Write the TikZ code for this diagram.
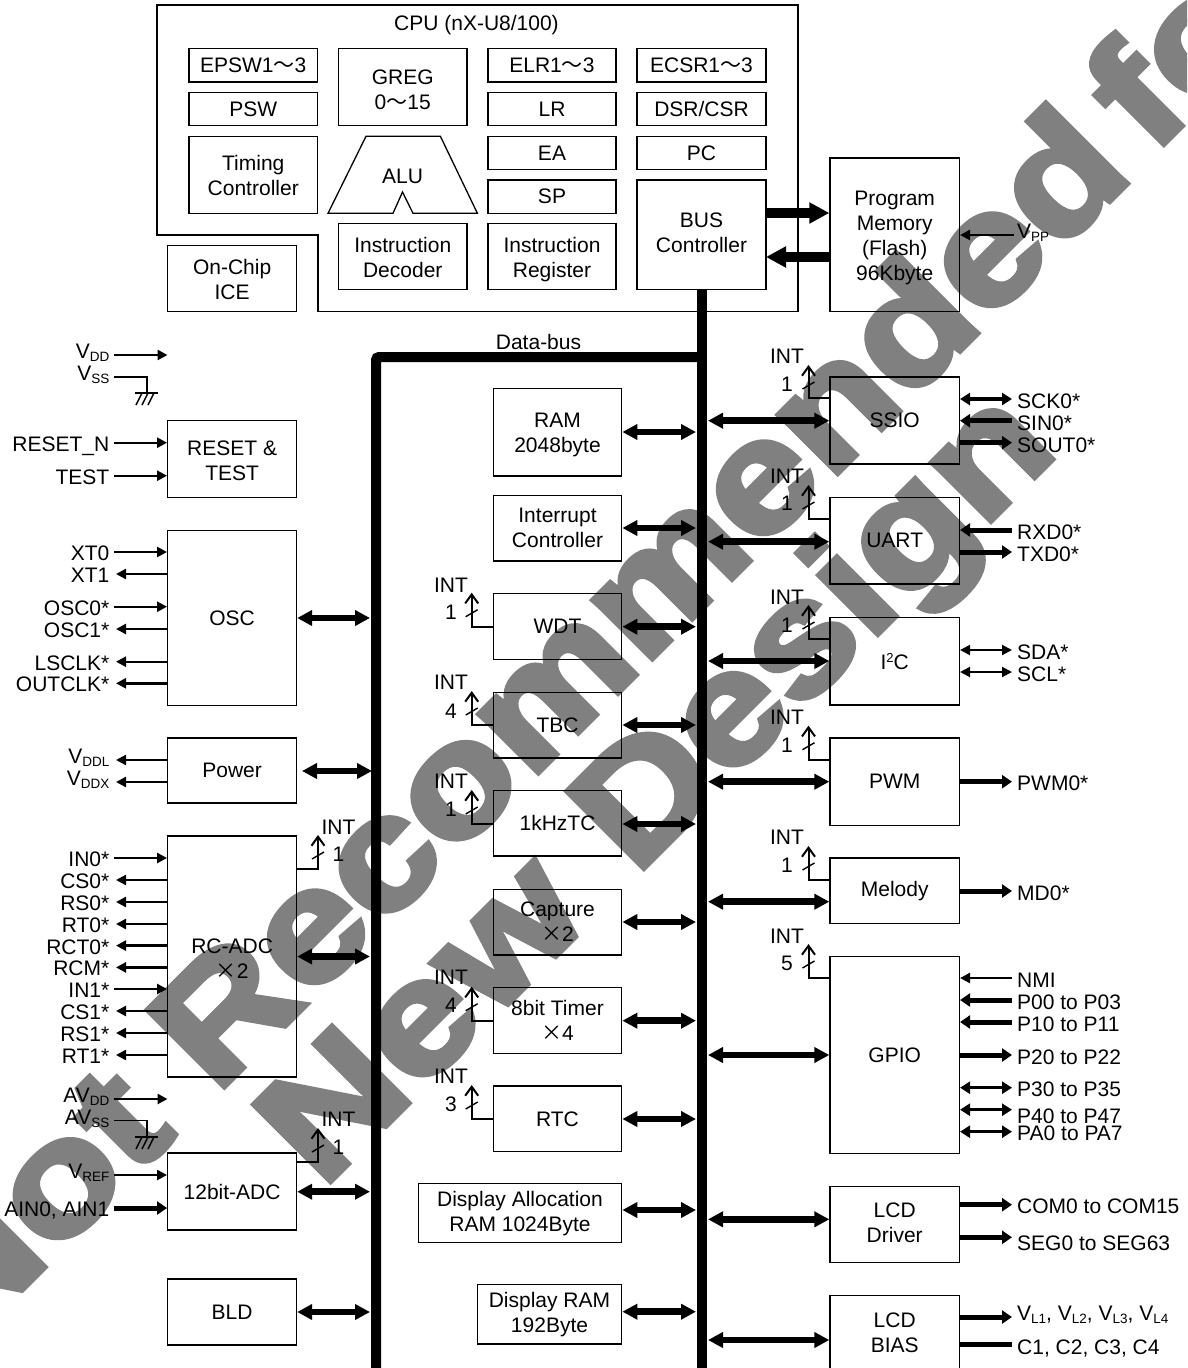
\documentclass[tikz,border=0pt]{standalone}
\usepackage{fontspec}
\setmainfont{Liberation Sans}
\newfontfamily\cjk{Noto Sans CJK JP}
\newfontfamily\wmf{Liberation Sans}[UprightFont=* Bold,FakeBold=3.5]
\usetikzlibrary{arrows.meta,calc}
\definecolor{wmark}{HTML}{808080}
\newcommand{\lowt}[1]{\raisebox{-3pt}{\fontsize{13.5}{13.5}\selectfont #1}}
\newcommand{\wv}{{\cjk ～}}
\newcommand{\tms}{{\cjk ×}}
\newcommand{\hh}[1]{\rule{0pt}{#1pt}}
\newcommand{\dd}[1]{\rule[-#1pt]{0pt}{#1pt}}
\newcommand{\bx}[6]{\node[box,minimum width={(#4-#2)*1pt},minimum height={(#5-#3)*1pt}] (#1) at ({(#2+#4)/2},{(#3+#5)/2}) {#6};}
\newcommand{\pinL}[6]{% name box y style text baseline-offset
  \node[lab,anchor=base east] (#1) at (109.5,#3+#6) {#5};
  \coordinate (#1c) at (114,#3);
  \draw[#4] (#1c) -- (#2.west |- #1c);}
\newcommand{\pinLo}[6]{%
  \node[lab,anchor=base east] (#1) at (109.5,#3+#6) {#5};
  \coordinate (#1c) at (116,#3);
  \draw[#4] (#1c) -- (#2.west |- #1c);}
\newcommand{\pinR}[6]{% name box y laby style text
  \node[lab,anchor=base west] (#1) at (1017,#4+7.5) {#6};
  \coordinate (#1c) at (1012,#3);
  \draw[#5] (#2.east |- #1c) -- (#1c);}
\newcommand{\busL}[3]{\coordinate (#1c) at (370,#3); \draw[dbl] (#2.east |- #1c) -- (#1c);}
\newcommand{\busM}[3]{\coordinate (#1c) at (696,#3); \draw[dbl] (#2.east |- #1c) -- (#1c);}
\newcommand{\busR}[3]{\coordinate (#1c) at (708,#3); \draw[dbl] (#1c) -- (#2.west |- #1c);}
\newcommand{\intr}[9]{% name startanchor xs sy tipy labx inty numy num
  \coordinate (#1s) at (#3,#4);
  \coordinate (#1t) at (#3,#5);
  \draw[intline] (#2 |- #1s) -- (#1s) -- (#1t);
  \draw[line width=1.4pt] ([shift={(-6,24)}]#1t) -- ([shift={(6,17)}]#1t);
  \node[lab] (#1a) at (#6,#7) {INT};
  \node[lab] (#1b) at (#6,#8) {#9};}
\tikzset{
  x=1pt,y=-1pt,
  box/.style={draw=black,line width=1.3pt,inner sep=0pt,align=center,font=\fontsize{21}{25}\selectfont},
  lab/.style={inner sep=0pt,font=\fontsize{21}{25}\selectfont},
  thin out/.style={line width=2.4pt,-{Triangle[length=10pt,width=10pt]}},
  thin in/.style={line width=2.4pt,{Triangle[length=10pt,width=10pt]}-},
  thin both/.style={line width=2pt,{Triangle[length=10pt,width=10pt]}-{Triangle[length=10pt,width=10pt]}},
  mid both/.style={line width=3.5pt,{Triangle[length=10pt,width=12pt]}-{Triangle[length=10pt,width=12pt]}},
  thick out/.style={line width=5pt,-{Triangle[length=10pt,width=13pt]}},
  thick in/.style={line width=5pt,{Triangle[length=10pt,width=13pt]}-},
  thick plain/.style={line width=5pt},
  dbl/.style={line width=6.5pt,{Triangle[length=15pt,width=15pt]}-{Triangle[length=15pt,width=15pt]}},
  heavy out/.style={line width=10pt,-{Triangle[length=20pt,width=20pt]}},
  heavy in/.style={line width=10pt,{Triangle[length=20pt,width=20pt]}-},
  busline/.style={line width=10pt},
  intline/.style={line width=2pt,-{Straight Barb[length=9pt,width=13pt]}},
  gnd/.style={line width=1.4pt},
  wm/.style={anchor=base west,inner sep=0pt,rotate=45,text=wmark,font=\wmf\fontsize{158}{158}\selectfont},
}
\begin{document}
\begin{tikzpicture}
\useasboundingbox (0,0) rectangle (1187,1368);
\clip (0,0) rectangle (1187,1368);
% watermark
\node[wm] (wm1) at (-42,1354) {\scalebox{1.18}[1]{Not}};
\node[wm] (wm2) at (216,1095) {\scalebox{1.148}[1]{Recommended}};
\node[wm] (wm3) at (1152,156) {\scalebox{1.15}[1]{for}};
\node[wm] (wm4) at (322,1190) {\scalebox{1.18}[1]{New}};
\node[wm] (wm5) at (635.5,876.5) {\scalebox{1.14}[1]{Design}};
% CPU
\draw[line width=1.5pt] (157,5) -- (798,5) -- (798,311.5) -- (318,311.5) -- (318,235) -- (157,235) -- cycle;
\node[lab,anchor=base] (cpu) at (476.5,30) {CPU (nX-U8/100)};
\bx{epsw}{189}{48.7}{317.5}{82}{EPSW1\wv3}
\bx{psw}{189}{92.7}{317.5}{125.7}{PSW}
\bx{timing}{189}{136.3}{317.5}{213.3}{\hh{17.2}Timing\\Controller}
\bx{greg}{338.5}{48.7}{467}{125.7}{\hh{19.2}GREG\\0\wv15}
\draw[line width=1.3pt] (366,136.3) -- (440.4,136.3) -- (477.4,213.3) -- (413,213.3) -- (402.5,192) -- (393,213.3) -- (328,213.3) -- cycle;
\node[lab] (alu) at (402.5,176) {ALU};
\bx{idec}{338.5}{223.7}{467}{289.7}{\hh{17.2}Instruction\\Decoder}
\bx{elr}{488}{48.7}{616}{82}{ELR1\wv3}
\bx{lr}{488}{92.7}{616}{125.7}{LR}
\bx{ea}{488}{136.3}{616}{169.3}{EA}
\bx{sp}{488}{180}{616}{213.3}{SP}
\bx{ireg}{488}{223.7}{616}{289.7}{\hh{20.2}Instruction\\Register}
\bx{ecsr}{637}{48.7}{766}{82}{ECSR1\wv3}
\bx{dsr}{637}{92.7}{766}{125.7}{DSR/CSR}
\bx{pc}{637}{136.3}{766}{169.3}{PC}
\bx{ctrl}{637}{180}{766}{289.7}{BUS\\Controller\dd{4}}
\bx{ice}{167.7}{245.7}{296.5}{311.7}{\hh{17.2}On-Chip\\ICE}
\bx{prog}{830}{158}{959.4}{311.7}{\hh{21.2}Program\\Memory\\(Flash)\\96Kbyte}
\coordinate (pa) at (766,213);
\coordinate (pb) at (766,257);
\draw[heavy out] (pa) -- (prog.west |- pa);
\draw[heavy in] (pb) -- (prog.west |- pb);
% data bus
\coordinate (busB) at (ctrl.south |- 0,1375);
\coordinate (busJ) at (ctrl.south |- 0,357);
\coordinate (busL) at (376,1375);
\draw[busline] (ctrl.south) -- (busB);
\draw[busline,rounded corners=3pt] (busL) |- (busJ);
\node[lab] (dbus) at (538.5,341.7) {Data-bus};
% left column
\bx{reset}{167.7}{420.7}{296.5}{497.3}{\hh{17.2}RESET \&\\TEST}
\bx{osc}{167.7}{530.3}{296.5}{705.3}{OSC}
\bx{power}{167.7}{738}{296.5}{803}{Power}
\bx{rcadc}{167.7}{836}{296.5}{1077}{\hh{18.2}RC-ADC\\\tms2}
\bx{adc}{167.7}{1153}{296.5}{1230}{12bit-ADC}
\bx{bld}{167.7}{1279}{296.5}{1345}{BLD}
% supply
\node[lab,anchor=base east] (vdd) at (109.5,358.5) {V\lowt{DD}};
\coordinate (vddA) at (114,355);
\coordinate (vddB) at (167.5,355);
\draw[thin out] (vddA) -- (vddB);
\node[lab,anchor=base east] (vss) at (109.5,380.5) {V\lowt{SS}};
\coordinate (vssA) at (114,377);
\coordinate (vssB) at (147,393);
\draw[line width=1.5pt] (vssA) -| (vssB);
\draw[gnd] ([shift={(-12,0)}]vssB) -- ([shift={(11,0)}]vssB);
\foreach \d in {-6,0,6}{\draw[gnd] ([shift={(\d+1,0)}]vssB) -- ([shift={(\d-5,12)}]vssB);}
\pinL{rst}{reset}{442.7}{thin out}{RESET\_N}{8.5}
\pinL{tst}{reset}{475.7}{thin out}{TEST}{8.5}
\pinL{xt0}{osc}{552}{thin out}{XT0}{8.5}
\pinLo{xt1}{osc}{574}{thin in}{XT1}{8.5}
\pinL{osc0}{osc}{606.7}{thin out}{OSC0*}{8.5}
\pinLo{osc1}{osc}{629}{thin in}{OSC1*}{8.5}
\pinLo{lsclk}{osc}{661.7}{thin in}{LSCLK*}{8.5}
\pinLo{outclk}{osc}{683.3}{thin in}{OUTCLK*}{8.5}
\pinLo{vddl}{power}{760}{thin in}{V\lowt{DDL}}{3.5}
\pinLo{vddx}{power}{782}{thin in}{V\lowt{DDX}}{3.5}
\pinL{in0}{rcadc}{858}{thin out}{IN0*}{8.5}
\pinLo{cs0}{rcadc}{880}{thin in}{CS0*}{8.5}
\pinLo{rs0}{rcadc}{902}{thin in}{RS0*}{8.5}
\pinLo{rt0}{rcadc}{924}{thin in}{RT0*}{8.5}
\pinLo{rct0}{rcadc}{945.6}{thin in}{RCT0*}{8.5}
\pinLo{rcm}{rcadc}{967.4}{thin in}{RCM*}{8.5}
\pinL{in1}{rcadc}{989}{thin out}{IN1*}{8.5}
\pinLo{cs1}{rcadc}{1011}{thin in}{CS1*}{8.5}
\pinLo{rs1}{rcadc}{1033}{thin in}{RS1*}{8.5}
\pinLo{rt1}{rcadc}{1055}{thin in}{RT1*}{8.5}
\node[lab,anchor=base east] (avdd) at (109.5,1102.5) {AV\lowt{DD}};
\coordinate (avddA) at (114,1099);
\coordinate (avddB) at (167.5,1099);
\draw[thin out] (avddA) -- (avddB);
\node[lab,anchor=base east] (avss) at (109.5,1124) {AV\lowt{SS}};
\coordinate (avssA) at (114,1120.6);
\coordinate (avssB) at (147,1137);
\draw[line width=1.5pt] (avssA) -| (avssB);
\draw[gnd] ([shift={(-12,0)}]avssB) -- ([shift={(11,0)}]avssB);
\foreach \d in {-6,0,6}{\draw[gnd] ([shift={(\d+1,0)}]avssB) -- ([shift={(\d-5,12)}]avssB);}
\pinL{vref}{adc}{1175}{thin out}{V\lowt{REF}}{3.5}
\pinL{ain}{adc}{1208}{thick out}{AIN0, AIN1}{8.5}
\busL{oscb}{osc}{618}
\coordinate (powa) at (302,771);
\coordinate (powb) at (372,771);
\draw[dbl] (powa) -- (powb);
\busL{rcb}{rcadc}{956.5}
\busL{adcb}{adc}{1191.7}
\busL{bldb}{bld}{1312}
\intr{i1}{rcadc.east}{318}{869}{835}{338.5}{827}{854}{1}
\intr{i2}{adc.east}{318}{1161.6}{1128}{338.5}{1119}{1147}{1}
% middle column
\bx{ram}{493.3}{388.7}{621.7}{476}{\hh{19.2}RAM\\2048byte}
\bx{intc}{493.3}{495.3}{621.7}{561}{Interrupt\\Controller}
\bx{wdt}{493.3}{593.7}{621.7}{659.3}{WDT}
\bx{tbc}{493.3}{692.3}{621.7}{758}{TBC}
\bx{khz}{493.3}{790.3}{621.7}{856}{1kHzTC}
\bx{cap}{493.3}{889.3}{621.7}{955}{Capture\\\tms2}
\bx{tim}{493.3}{987.7}{621.7}{1053.3}{8bit Timer\\\tms4}
\bx{rtc}{493.3}{1086}{621.7}{1151.7}{RTC}
\bx{dar}{418.3}{1183.7}{621.7}{1242.3}{\hh{17.2}Display Allocation\\RAM 1024Byte}
\bx{dram}{477.3}{1284.7}{621.7}{1344}{Display RAM\\192Byte}
\busM{ramb}{ram}{432}
\busM{intb}{intc}{528}
\busM{wdtb}{wdt}{626.7}
\busM{tbcb}{tbc}{725}
\busM{khzb}{khz}{824}
\busM{capb}{cap}{922}
\busM{timb}{tim}{1020.7}
\busM{rtcb}{rtc}{1119}
\busM{darb}{dar}{1210}
\busM{dramb}{dram}{1311.7}
\intr{i3}{wdt.west}{471.7}{626.7}{592.7}{451}{585}{612}{1}
\intr{i4}{tbc.west}{471.7}{725}{691}{451}{682}{711}{4}
\intr{i5}{khz.west}{471.7}{824}{790}{451}{781.7}{809}{1}
\intr{i6}{tim.west}{471.7}{1020.7}{986.7}{451}{977}{1005}{4}
\intr{i7}{rtc.west}{471.7}{1119}{1085}{451}{1076.7}{1104}{3}
% right column
\bx{ssio}{830}{377}{959.4}{464}{SSIO}
\bx{uart}{830}{497.3}{959.4}{584}{UART}
\bx{iic}{830}{617.7}{959.4}{705}{I\raisebox{7pt}{\fontsize{13}{13}\selectfont 2}C}
\bx{pwm}{830}{738}{959.4}{825.3}{PWM}
\bx{mel}{830}{858}{959.4}{923.7}{Melody}
\bx{gpio}{830}{956.7}{959.4}{1153.3}{GPIO}
\bx{lcdd}{830}{1186.3}{959.4}{1262.7}{LCD\\Driver\dd{3}}
\bx{lcdb}{830}{1295.3}{959.4}{1372}{LCD\\BIAS\dd{2}}
\busR{ssb}{ssio}{420.7}
\busR{uab}{uart}{541.7}
\busR{iib}{iic}{661}
\busR{pwb}{pwm}{781.7}
\busR{meb}{mel}{901.7}
\busR{gpb}{gpio}{1055}
\busR{ldb}{lcdd}{1219.3}
\busR{lbb}{lcdb}{1340}
\intr{i8}{ssio.west}{808.5}{398}{365}{787}{356.7}{384}{1}
\intr{i9}{uart.west}{808.5}{519}{485}{787}{476.7}{503}{1}
\intr{i10}{iic.west}{808.5}{639.3}{605}{787}{597}{625}{1}
\intr{i11}{pwm.west}{808.5}{759.7}{725.7}{787}{717.7}{745}{1}
\intr{i12}{mel.west}{808.5}{880}{846}{787}{837.7}{865}{1}
\intr{i13}{gpio.west}{808.5}{978.3}{944}{787}{936}{963.3}{5}
\node[lab,anchor=base west] (vpp) at (1017,238.5) {V\lowt{PP}};
\coordinate (vppc) at (1014,235);
\draw[thin in] (prog.east |- vppc) -- (vppc);
\pinR{sck}{ssio}{399}{401}{mid both}{SCK0*}
\pinR{sin}{ssio}{420.7}{423}{thick in}{SIN0*}
\pinR{sout}{ssio}{442.7}{445}{thick out}{SOUT0*}
\pinR{rxd}{uart}{530}{532}{thick in}{RXD0*}
\pinR{txd}{uart}{552}{554}{thick out}{TXD0*}
\pinR{sda}{iic}{650}{651.5}{thin both}{SDA*}
\pinR{scl}{iic}{672}{673.5}{thin both}{SCL*}
\pinR{pwm0}{pwm}{781.7}{783}{thick out}{PWM0*}
\pinR{md0}{mel}{891}{892.5}{thick out}{MD0*}
\pinR{nmi}{gpio}{978}{980}{thin in}{NMI}
\pinR{p0}{gpio}{1000}{1001.7}{thick in}{P00 to P03}
\pinR{p1}{gpio}{1022}{1023.7}{thick in}{P10 to P11}
\pinR{p2}{gpio}{1055}{1056.7}{thick out}{P20 to P22}
\pinR{p3}{gpio}{1087.7}{1089}{mid both}{P30 to P35}
\pinR{p4}{gpio}{1109.7}{1115.7}{mid both}{P40 to P47}
\pinR{pa}{gpio}{1131.7}{1132.7}{mid both}{PA0 to PA7}
\pinR{com}{lcdd}{1204.7}{1205.7}{thick out}{COM0 to COM15}
\pinR{seg}{lcdd}{1237.3}{1243}{thick out}{SEG0 to SEG63}
\node[lab,anchor=base west] (vl) at (1017,1320) {V\lowt{L1}, V\lowt{L2}, V\lowt{L3}, V\lowt{L4}};
\coordinate (vlc) at (1012,1317);
\draw[thick out] (lcdb.east |- vlc) -- (vlc);
\pinR{c1}{lcdb}{1344.7}{1346.7}{thick plain}{C1, C2, C3, C4}
\end{tikzpicture}
\end{document}
